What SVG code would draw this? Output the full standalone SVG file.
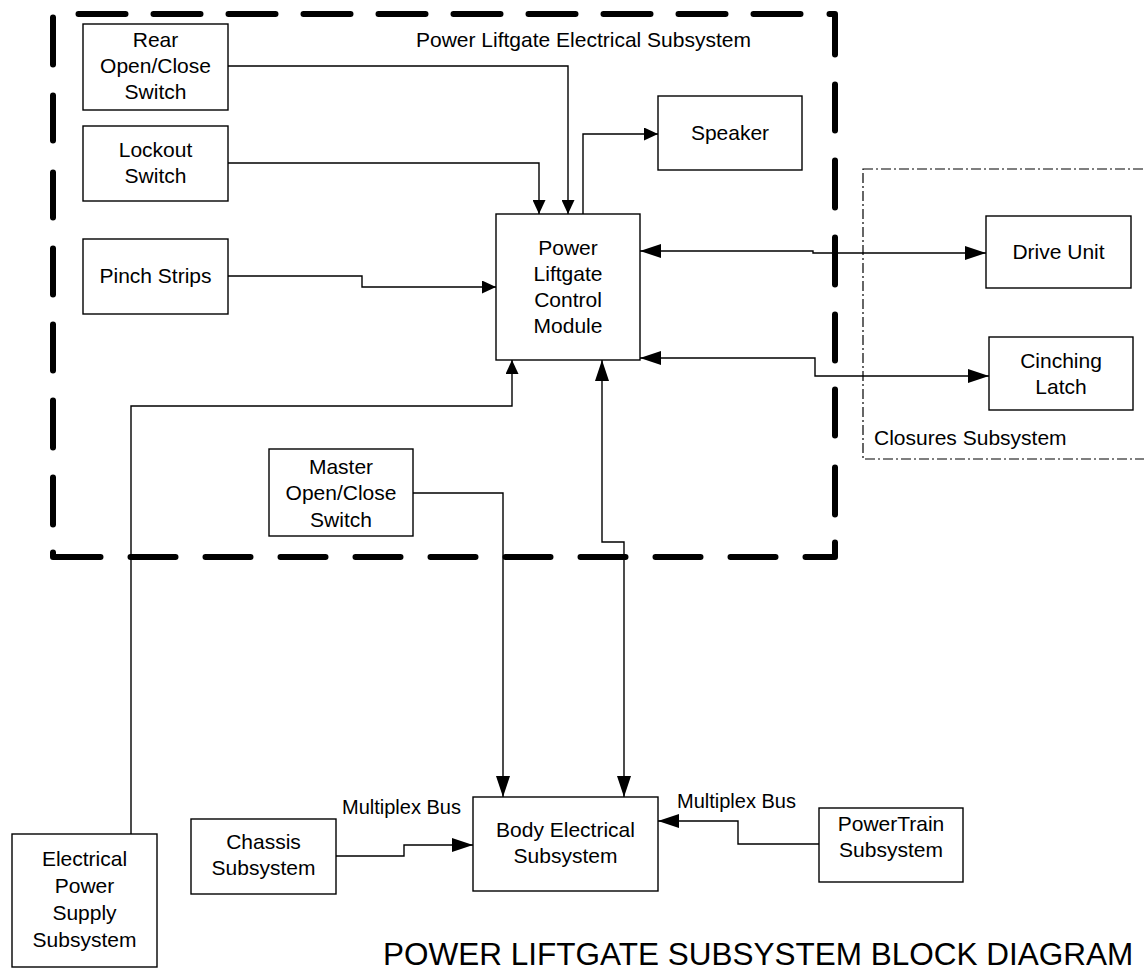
<svg xmlns="http://www.w3.org/2000/svg" width="1144" height="971" viewBox="0 0 1144 971">
  <style>
    .box { fill: #fff; stroke: #000; stroke-width: 1.4; }
    .lbl { font-family: "Liberation Sans", Arial, Helvetica, sans-serif; font-size: 21px; fill: #000; }
    .mid { text-anchor: middle; }
    .wire { fill: none; stroke: #000; stroke-width: 1.4; }
    .border { fill: none; stroke: #000; stroke-width: 6; stroke-linecap: round; stroke-linejoin: round; }
    .closures { fill: none; stroke: #000; stroke-width: 1.2; stroke-dasharray: 10 3 2 3; }
    .title { font-family: "Liberation Sans", Arial, Helvetica, sans-serif; font-size: 31.5px; fill: #000; }
  </style>
  <defs>
    <marker id="arr" markerUnits="userSpaceOnUse" markerWidth="14" markerHeight="13" refX="14" refY="6.5" orient="auto-start-reverse">
      <path d="M0,0 L14,6.5 L0,13 z" fill="#000"/>
    </marker>
    <marker id="arrL" markerUnits="userSpaceOnUse" markerWidth="21" markerHeight="14" refX="21" refY="7" orient="auto-start-reverse">
      <path d="M0,0 L21,7 L0,14 z" fill="#000"/>
    </marker>
  </defs>
  <rect width="1144" height="971" fill="#fff"/>

  <!-- Power Liftgate Electrical Subsystem boundary (heavy dashes) -->
  <g id="electrical-subsystem-boundary">
    <path class="border" d="M78.5,14H125.5M153.5,14H200.5M228.5,14H275.5M303.5,14H350.5M378.5,14H425.5M453.5,14H500.5M528.5,14H575.5M603.5,14H650.5M678.5,14H725.5M753.5,14H800.5M829.5,14H835V54.5
      M835,84.5V130.5M835,160.5V207.5M835,237.5V284.5M835,314.5V360.5M835,389.5V435.5M835,467.5V514.5M835,542.5V557H805.5
      M775.5,557H730.5M700.5,557H655.5M625.5,557H580.5M550.5,557H505.5M475.5,557H430.5M400.5,557H355.5M325.5,557H280.5M250.5,557H205.5M175.5,557H130.5M100.5,557H53V552.5
      M53,524.5V477.5M53,447.5V400.5M53,370.5V324.5M53,294.5V248.5M53,217.5V172.5M53,140.5V95.5M53,64.5V17.5"/>
    <text class="lbl" x="416" y="47">Power Liftgate Electrical Subsystem</text>
  </g>

  <!-- Closures Subsystem boundary (dash-dot), runs off the right edge -->
  <g id="closures-subsystem-boundary">
    <rect class="closures" x="863" y="169" width="320" height="290"/>
    <text class="lbl" x="874" y="445">Closures Subsystem</text>
  </g>

  <!-- Connectors -->
  <g id="connectors">
    <path class="wire" d="M228,66H568V214" marker-end="url(#arr)"/>
    <path class="wire" d="M228,163H539V214" marker-end="url(#arr)"/>
    <path class="wire" d="M228,276H362V287H496" marker-end="url(#arr)"/>
    <path class="wire" d="M583,214V134H658" marker-end="url(#arr)"/>
    <path class="wire" d="M640,251H813V253H986" marker-start="url(#arrL)" marker-end="url(#arrL)"/>
    <path class="wire" d="M640,358H815V376H989" marker-start="url(#arrL)" marker-end="url(#arrL)"/>
    <path class="wire" d="M131,834V406H512V360" marker-end="url(#arr)"/>
    <path class="wire" d="M602,360V542H624V797" marker-start="url(#arrL)" marker-end="url(#arrL)"/>
    <path class="wire" d="M413,493H503V797" marker-end="url(#arrL)"/>
    <path class="wire" d="M336,856H404V845H473" marker-end="url(#arrL)"/>
    <path class="wire" d="M819,844H738V821H658" marker-end="url(#arrL)"/>
    <text class="lbl" x="342" y="814" style="font-size:20px">Multiplex Bus</text>
    <text class="lbl" x="677" y="808" style="font-size:20px">Multiplex Bus</text>
  </g>

  <!-- Nodes -->
  <g id="rear-open-close-switch">
    <rect class="box" x="83" y="24" width="145" height="86"/>
    <text class="lbl mid" x="155.5" y="47">Rear</text>
    <text class="lbl mid" x="155.5" y="73">Open/Close</text>
    <text class="lbl mid" x="155.5" y="99">Switch</text>
  </g>
  <g id="lockout-switch">
    <rect class="box" x="83" y="126" width="145" height="75"/>
    <text class="lbl mid" x="155.5" y="157">Lockout</text>
    <text class="lbl mid" x="155.5" y="183">Switch</text>
  </g>
  <g id="pinch-strips">
    <rect class="box" x="83" y="239" width="145" height="75"/>
    <text class="lbl mid" x="155.5" y="283">Pinch Strips</text>
  </g>
  <g id="speaker">
    <rect class="box" x="658" y="96" width="144" height="74"/>
    <text class="lbl mid" x="730" y="140">Speaker</text>
  </g>
  <g id="power-liftgate-control-module">
    <rect class="box" x="496" y="214" width="144" height="146"/>
    <text class="lbl mid" x="568" y="255">Power</text>
    <text class="lbl mid" x="568" y="281">Liftgate</text>
    <text class="lbl mid" x="568" y="307">Control</text>
    <text class="lbl mid" x="568" y="333">Module</text>
  </g>
  <g id="drive-unit">
    <rect class="box" x="986" y="216" width="145" height="72"/>
    <text class="lbl mid" x="1058.5" y="259">Drive Unit</text>
  </g>
  <g id="cinching-latch">
    <rect class="box" x="989" y="337" width="144" height="73"/>
    <text class="lbl mid" x="1061" y="368">Cinching</text>
    <text class="lbl mid" x="1061" y="394">Latch</text>
  </g>
  <g id="master-open-close-switch">
    <rect class="box" x="269" y="449" width="144" height="87"/>
    <text class="lbl mid" x="341" y="474">Master</text>
    <text class="lbl mid" x="341" y="500">Open/Close</text>
    <text class="lbl mid" x="341" y="527">Switch</text>
  </g>
  <g id="body-electrical-subsystem">
    <rect class="box" x="473" y="797" width="185" height="94"/>
    <text class="lbl mid" x="565.5" y="837">Body Electrical</text>
    <text class="lbl mid" x="565.5" y="863">Subsystem</text>
  </g>
  <g id="chassis-subsystem">
    <rect class="box" x="191" y="819" width="145" height="75"/>
    <text class="lbl mid" x="263.5" y="849">Chassis</text>
    <text class="lbl mid" x="263.5" y="875">Subsystem</text>
  </g>
  <g id="powertrain-subsystem">
    <rect class="box" x="819" y="808" width="144" height="74"/>
    <text class="lbl mid" x="891" y="831">PowerTrain</text>
    <text class="lbl mid" x="891" y="857">Subsystem</text>
  </g>
  <g id="electrical-power-supply-subsystem">
    <rect class="box" x="12" y="834" width="145" height="133"/>
    <text class="lbl mid" x="84.5" y="866">Electrical</text>
    <text class="lbl mid" x="84.5" y="893">Power</text>
    <text class="lbl mid" x="84.5" y="920">Supply</text>
    <text class="lbl mid" x="84.5" y="947">Subsystem</text>
  </g>

  <text class="title" x="383" y="965">POWER LIFTGATE SUBSYSTEM BLOCK DIAGRAM</text>
</svg>
